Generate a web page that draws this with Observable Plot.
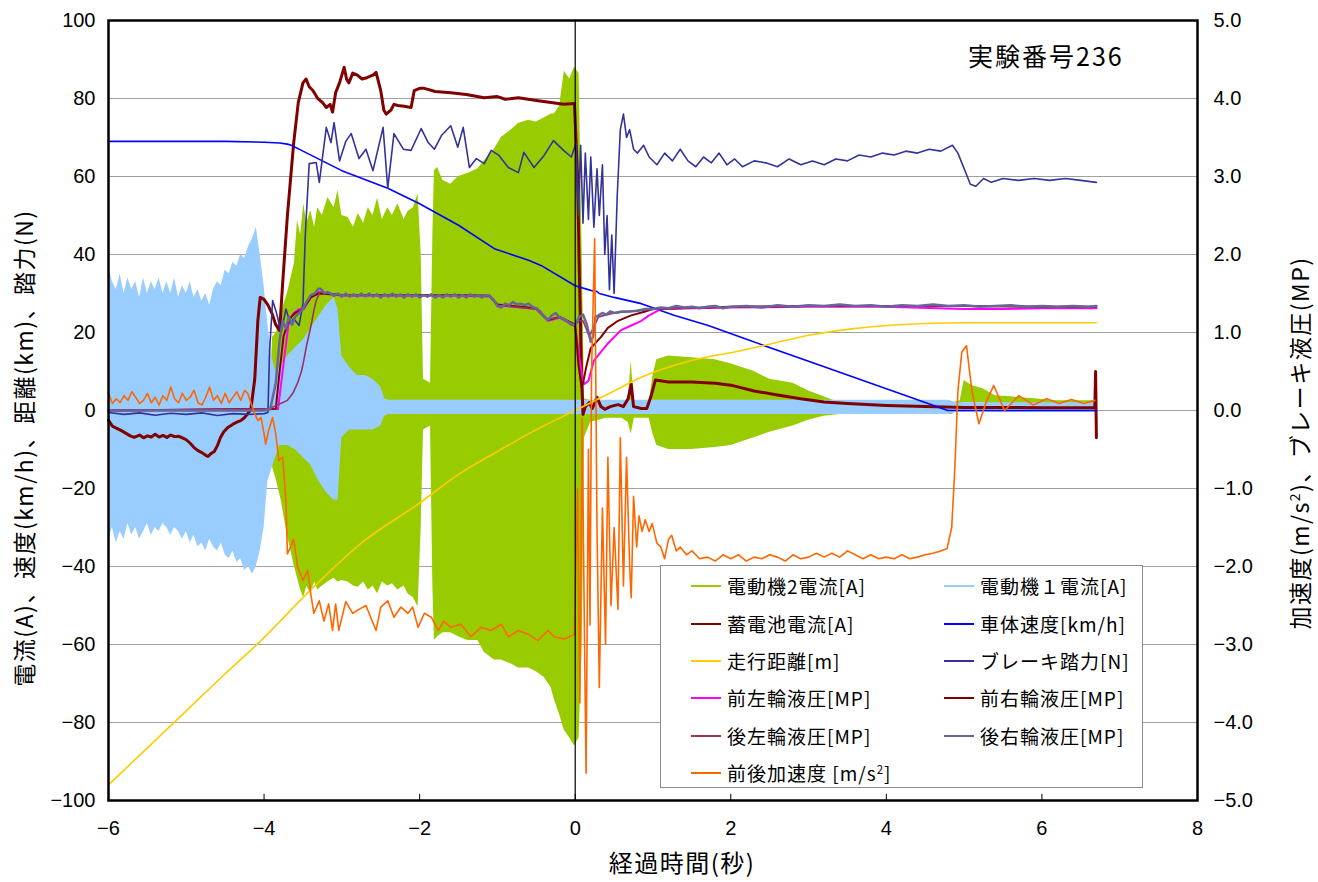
<!DOCTYPE html>
<html><head><meta charset="utf-8">
<script src="https://cdn.jsdelivr.net/npm/d3@7"></script>
<script src="https://cdn.jsdelivr.net/npm/@observablehq/plot@0.6"></script>
<style>
body{margin:0;background:#fff;}
#wrap{position:relative;width:1318px;height:882px;overflow:hidden;font-family:"Noto Sans CJK JP",sans-serif;color:#000;}
#chart{position:absolute;left:0;top:0;}
.lbl{position:absolute;white-space:nowrap;line-height:1;}
.rot{transform:translate(-50%,-50%) rotate(-90deg);}
#legend{position:absolute;left:660px;top:565px;width:483px;height:223px;border:1px solid #8c8c8c;background:#fff;box-sizing:border-box;}
.item{position:absolute;font-size:19px;line-height:20px;height:20px;white-space:nowrap;display:flex;align-items:center;letter-spacing:1px;}
.item i{display:inline-block;width:30px;height:2px;margin-right:6px;}
sup{font-size:0.6em;vertical-align:0.6em;line-height:0;}
#warn{position:absolute;left:10px;top:10px;color:red;font-size:14px;}
</style></head>
<body><div id="wrap"><div id="chart"></div><div id="legend"></div><div id="warn"></div></div>
<script>
// ---------- axes / ticks ----------
const xTicks = [-6, -4, -2, 0, 2, 4, 6, 8];
const yTicks = [-100, -80, -60, -40, -20, 0, 20, 40, 60, 80, 100];
const yGrid = [-80, -60, -40, -20, 0, 20, 40, 60, 80];
const accelTicks = [-5, -4, -3, -2, -1, 0, 1, 2, 3, 4, 5];
const SCALE = 20; // right axis (m/s2, MP) -> left axis units

// ---------- series (time in s) ----------
// 電動機2電流[A] : envelope of the dense oscillation
const m2T  = [-3.93,-3.89,-3.84,-3.78,-3.7,-3.61,-3.57,-3.53,-3.49,-3.45,-3.4,-3.35,-3.31,-3.25,-3.18,-3.1,-3.05,-3.0,-2.92,-2.85,-2.79,-2.72,-2.66,-2.6,-2.54,-2.48,-2.41,-2.35,-2.28,-2.2,-2.15,-2.08,-2.02,-1.98,-1.95,-1.86,-1.83,-1.81,-1.77,-1.7,-1.6,-1.5,-1.38,-1.25,-1.17,-1.04,-0.95,-0.82,-0.73,-0.6,-0.5,-0.4,-0.31,-0.27,-0.2,-0.14,-0.07,-0.01,0.05,0.09,0.12,0.2,0.4,0.6,0.68,0.72,0.76,0.95,1.0,1.05,1.2,1.5,1.8,2.0,2.3,2.5,2.8,3.0,3.2,3.4,4.85,4.95,5.0,5.1,5.25,5.4,5.6,5.9,6.2,6.7];
const m2Hi = [0,18.8,20,25,30,37.7,48.7,45,53,48,51.3,47,52,50,54.6,52,56.4,50,49.5,47,50.5,48,52,50,54.4,49,52,50,53,49,51,52,55.6,40,8,7,45,61.5,62.3,59,58,60,60.8,62,64,67,70,72,73.6,74.4,74,75,76,76,78,87,85,88,86.4,40,3,2.5,2,2,2,12.7,2,2,9,13,14,13.5,13,12,10,8,7,5,3.5,2,2,2.5,7.7,6.4,5.5,3.8,3.5,3,2.5,2.5];
const m2Lo = [0,-14.6,-18,-23,-32,-40,-43,-46,-48,-45,-47,-44,-46,-45,-44,-43,-44,-43.6,-44,-45,-45.3,-44,-46,-45,-47,-44,-45,-44.4,-46,-45,-47,-48,-50.4,-30,-5,-4,-45,-59,-58,-57,-57,-58,-59,-59,-62,-64,-64,-65,-66,-66,-67,-68.4,-71,-74,-78,-82,-84,-86,-84,-60,-7,-3,-2,-2,-3,-6,-2,-2,-6,-9,-10,-10,-9.5,-9,-7,-5.6,-4,-2.5,-1.5,-1,-1,1,2,2,2,1.5,1.5,1.5,1,1];

// 電動機1電流[A] : envelope
const m1T  = [-6,-5.95,-5.9,-5.85,-5.8,-5.75,-5.7,-5.65,-5.6,-5.55,-5.5,-5.45,-5.4,-5.35,-5.3,-5.25,-5.2,-5.15,-5.1,-5.05,-5,-4.95,-4.9,-4.85,-4.8,-4.75,-4.7,-4.65,-4.6,-4.55,-4.5,-4.45,-4.4,-4.35,-4.3,-4.25,-4.2,-4.15,-4.1,-4.05,-4,-3.95,-3.9,-3.85,-3.8,-3.7,-3.6,-3.5,-3.4,-3.3,-3.2,-3.1,-3.05,-3,-2.9,-2.8,-2.7,-2.6,-2.5,-2.45,-2.4,4.8,4.9,6.7];
const m1Hi = [37,33,31,35,30,34,31,33,29,34,30,33,31,34,30,33,30,34,29,32,30,33,29,31,28,30,27,31,33,32,36,35,38,37,40,39,42,44,47,40,32,22,14,10,11,14,16,18,21,24,27,29,26,14,11,9,9,8,6,3,2.6,2.6,2,2];
const m1Lo = [-33,-30,-34,-31,-33,-29,-32,-30,-33,-31,-29,-32,-30,-31,-29,-30,-32,-30,-31,-33,-31,-34,-32,-35,-34,-36,-33,-35,-36,-34,-37,-38,-36,-39,-38,-41,-40,-42,-40,-36,-30,-18,-15,-12,-9,-9,-10,-12,-14,-18,-21,-23,-23,-7,-5,-5,-5,-5,-4,-1.5,-1,-1,-0.5,-0.5];

// 蓄電池電流[A]
const batT = [-6,-5.95,-5.9,-5.84,-5.78,-5.72,-5.67,-5.6,-5.55,-5.5,-5.45,-5.4,-5.35,-5.3,-5.25,-5.2,-5.15,-5.1,-5.05,-5,-4.95,-4.9,-4.85,-4.8,-4.75,-4.72,-4.68,-4.64,-4.6,-4.56,-4.52,-4.47,-4.4,-4.35,-4.3,-4.25,-4.21,-4.17,-4.12,-4.08,-4.05,-4,-3.95,-3.9,-3.85,-3.8,-3.76,-3.7,-3.62,-3.56,-3.5,-3.46,-3.42,-3.37,-3.31,-3.25,-3.2,-3.15,-3.12,-3.08,-3.03,-2.97,-2.94,-2.91,-2.86,-2.8,-2.74,-2.67,-2.6,-2.56,-2.5,-2.46,-2.43,-2.37,-2.33,-2.28,-2.2,-2.11,-2.07,-2,-1.94,-1.8,-1.6,-1.4,-1.17,-1,-0.9,-0.73,-0.5,-0.31,-0.15,-0.01,0.03,0.05,0.08,0.1,0.13,0.18,0.22,0.28,0.33,0.38,0.45,0.55,0.62,0.68,0.72,0.75,0.85,0.92,0.98,1.03,1.2,1.5,1.8,2,2.3,2.6,2.9,3.2,3.5,4,4.5,5,5.5,6,6.68,6.69,6.7];
const batV = [-2.5,-4,-4.5,-5.1,-5.8,-6.5,-6.9,-6.3,-7,-6.5,-6.8,-6.1,-6.8,-6.4,-6.9,-6.3,-6.7,-6.6,-7,-7.5,-8.4,-9.5,-10.3,-10.8,-11.5,-11.8,-11,-10.5,-9,-6.9,-5.5,-4.4,-3.5,-3,-2.6,-1.8,-0.8,0.3,8,23,29,28.5,27,25,22,20.5,33,50,68.5,79,84,85,83,82,80,79,77.7,78.5,76.5,81.5,84,88,85,84,86.5,86,85,85.4,86,86.7,82,77,76,77,78.5,78.2,78,77.7,82,82.6,82.6,81.8,81.5,81,80.2,80.5,79.8,80.2,79.5,79,78.5,78.7,60,38.5,10,-1,1,2,0.5,3.4,1,0.3,1,1.5,1,3,6.8,1,0.5,0.5,4,7.8,7.3,7.3,7,6.5,5,4,3,2.2,1.8,1.3,1,0.8,0.8,0.7,0.7,10,-7];

// 車体速度[km/h]
const velT = [-6,-5,-4.5,-4,-3.8,-3.7,-3.65,-3.5,-3.2,-3,-2.41,-2,-1.89,-1.5,-1.04,-0.6,-0.44,0,0.2,0.28,0.31,0.5,0.85,1.27,1.71,2.14,3,4,4.79,6.7];
const velV = [69,69,69,68.8,68.6,68.3,68,66.5,63.5,61.5,57,53,51.8,47.5,41.5,38.5,37.2,32,30.8,30.5,30,29,27.4,24.4,21.8,18.7,12.6,5.6,0,0];

// 走行距離[m]
const distT = [-6,-5.5,-5,-4.5,-4.04,-3.4,-2.75,-2.02,-1.47,-1,-0.6,-0.44,0,0.2,0.5,0.85,1.49,2.14,2.5,3,3.5,4,4.5,5,6.7];
const distV = [-96,-86.5,-77,-67.5,-59,-46,-34,-24,-16,-10.5,-6,-4.3,0,2,5,8.5,12.8,15.4,17,19.3,20.8,21.8,22.3,22.5,22.5];

// ブレーキ踏力[N]
const brkT = [-6,-5.8,-5.6,-5.4,-5.2,-5,-4.8,-4.6,-4.4,-4.2,-4,-3.95,-3.93,-3.89,-3.84,-3.78,-3.72,-3.66,-3.62,-3.55,-3.5,-3.47,-3.42,-3.33,-3.29,-3.2,-3.14,-3.1,-3.03,-2.95,-2.88,-2.78,-2.69,-2.6,-2.47,-2.41,-2.33,-2.21,-2.11,-1.98,-1.89,-1.81,-1.72,-1.6,-1.51,-1.44,-1.36,-1.27,-1.17,-1.08,-0.98,-0.86,-0.73,-0.66,-0.53,-0.4,-0.28,-0.15,-0.05,0.01,0.04,0.07,0.1,0.13,0.17,0.2,0.24,0.28,0.31,0.35,0.38,0.41,0.44,0.47,0.5,0.54,0.58,0.62,0.66,0.7,0.75,0.8,0.88,0.95,1.05,1.15,1.25,1.35,1.45,1.55,1.65,1.75,1.85,1.95,2.05,2.15,2.3,2.45,2.6,2.75,2.9,3.05,3.2,3.35,3.5,3.65,3.8,3.95,4.1,4.25,4.4,4.55,4.7,4.85,4.92,5,5.08,5.15,5.25,5.35,5.5,5.7,5.9,6.1,6.3,6.5,6.7];
const brkV = [-0.5,-1,-0.6,-1.2,-0.7,-1,-0.6,-1.3,-0.8,-1,-0.8,-0.5,15,28.2,25,20,26,22.3,23.6,21.8,27.4,45,63.3,63.6,58.5,72.6,68.7,73.8,64,69,71,64.6,67,61.5,72.6,57,71,67,66.7,72.3,68.7,67,70.5,73,67.5,72.6,62.3,64.6,63.3,66.7,65.4,62.3,61,66.2,62.3,65.4,69.2,66.7,65,68.5,50,68,48,66,49,65,47,62,50,63,40,50,31,45,30,55,72,76,70,72,67,66,68,65,63,66,64,67,64,62.5,65,63.5,66,63,64.5,62.5,64,63.5,62.5,64.5,63,64,63,64.5,64,65.5,65,66,65.5,66.5,66,67,66.5,68,66,62,58,57.5,59.5,58.5,59.5,59,59.5,59,59.5,59,58.5];

// 前左輪液圧[MP]
const flT = [-6,-3.82,-3.78,-3.74,-3.68,-3.62,-3.55,-3.49,-3.4,-3.3,-3,-2.5,-2,-1.5,-1.1,-1,-0.5,-0.35,-0.2,0,0.05,0.1,0.12,0.17,0.24,0.42,0.59,0.72,0.85,0.95,1.1,2,3,4,5,5.5,6,6.7];
const flV = [0,0.02,0.35,0.68,1.15,1.25,1.3,1.3,1.45,1.52,1.47,1.47,1.47,1.47,1.46,1.35,1.3,1.15,1.19,1.08,0.7,0.38,0.34,0.38,0.64,0.86,1.03,1.09,1.15,1.22,1.3,1.32,1.33,1.33,1.3,1.3,1.31,1.31];
// 前右輪液圧[MP]
const frT = [-6,-3.85,-3.8,-3.75,-3.7,-3.65,-3.6,-3.5,-3.4,-3.3,-3,-2.5,-2,-1.5,-1.1,-1,-0.5,-0.35,-0.2,0,0.04,0.08,0.1,0.14,0.2,0.33,0.42,0.55,0.72,0.9,1.0,2,3,4,5,6,6.7];
const frV = [0,0.02,0.5,0.95,1.1,1.2,1.25,1.3,1.45,1.5,1.48,1.48,1.48,1.48,1.47,1.36,1.31,1.16,1.2,1.1,0.6,0.3,0.35,0.55,0.8,0.94,1.06,1.15,1.22,1.27,1.3,1.33,1.34,1.34,1.34,1.33,1.33];
// 後左輪液圧[MP]
const rlT = [-6,-3.95,-3.85,-3.7,-3.63,-3.57,-3.52,-3.49,-3.45,-3.4,-3.36,-3.33,-3.28,-3,-2.5,-2,-1.5,-1.1,-1,-0.5,-0.35,-0.2,0,0.05,0.1,0.18,0.3,0.5,1,2,3,4,5,6,6.7];
const rlV = [0,0.02,0.06,0.13,0.22,0.35,0.5,0.64,0.85,1.07,1.28,1.41,1.52,1.48,1.48,1.48,1.48,1.47,1.35,1.3,1.17,1.19,1.1,1.15,1.15,0.95,1.2,1.25,1.3,1.33,1.34,1.34,1.34,1.33,1.33];
// 後右輪液圧[MP]
const rrT = [-6,-4,-3.92,-3.85,-3.8,-3.76,-3.72,-3.68,-3.64,-3.6,-3.55,-3.5,-3.45,-3.4,-3.35,-3.3,-3.27,-3.22,-3.18,-3.1,-3.05,-3,-2.95,-2.9,-2.85,-2.8,-2.75,-2.7,-2.65,-2.6,-2.55,-2.5,-2.45,-2.4,-2.35,-2.3,-2.25,-2.2,-2.15,-2.1,-2.05,-2,-1.95,-1.9,-1.85,-1.8,-1.75,-1.7,-1.65,-1.6,-1.55,-1.5,-1.45,-1.4,-1.35,-1.3,-1.25,-1.2,-1.15,-1.1,-1.05,-1,-0.95,-0.9,-0.85,-0.8,-0.75,-0.7,-0.65,-0.6,-0.55,-0.5,-0.45,-0.4,-0.35,-0.3,-0.25,-0.2,-0.15,-0.1,-0.05,0,0.05,0.1,0.15,0.2,0.23,0.26,0.3,0.35,0.4,0.45,0.5,0.6,0.7,0.8,0.9,1,1.1,1.2,1.3,1.4,1.5,1.6,1.7,1.8,1.9,2,2.2,2.4,2.6,2.8,3,3.2,3.4,3.6,3.8,4,4.2,4.4,4.6,4.8,5,5.2,5.4,5.6,5.8,6,6.2,6.4,6.6,6.7];
const rrV = [0,0,0.02,0.35,0.9,1.15,1.05,1.2,1.1,1.2,1.25,1.3,1.4,1.48,1.5,1.56,1.56,1.5,1.52,1.47,1.5,1.46,1.5,1.46,1.49,1.46,1.5,1.46,1.5,1.46,1.49,1.45,1.49,1.46,1.5,1.46,1.49,1.45,1.49,1.46,1.49,1.45,1.48,1.46,1.49,1.45,1.48,1.45,1.49,1.46,1.49,1.45,1.48,1.45,1.49,1.46,1.48,1.45,1.48,1.47,1.42,1.34,1.32,1.37,1.35,1.39,1.36,1.37,1.35,1.37,1.33,1.31,1.27,1.2,1.16,1.22,1.25,1.19,1.18,1.14,1.1,1.1,1.2,1.23,1.1,0.88,0.95,1.2,1.22,1.25,1.23,1.27,1.25,1.27,1.27,1.28,1.3,1.3,1.32,1.31,1.34,1.32,1.33,1.31,1.33,1.34,1.31,1.33,1.34,1.32,1.35,1.33,1.35,1.34,1.36,1.34,1.35,1.33,1.35,1.34,1.36,1.34,1.35,1.33,1.34,1.35,1.33,1.34,1.33,1.34,1.33,1.34];

// 前後加速度[m/s2]
const accT = [-6,-5.95,-5.9,-5.85,-5.8,-5.75,-5.7,-5.65,-5.6,-5.55,-5.5,-5.45,-5.4,-5.35,-5.3,-5.25,-5.2,-5.15,-5.1,-5.05,-5,-4.95,-4.9,-4.85,-4.8,-4.75,-4.7,-4.65,-4.6,-4.55,-4.5,-4.45,-4.4,-4.35,-4.3,-4.25,
 -4.21,-4.17,-4.12,-4.08,-4.04,-4,-3.98,-3.94,-3.89,-3.85,-3.81,-3.76,-3.72,-3.7,-3.66,-3.62,-3.57,-3.5,-3.44,-3.4,-3.36,-3.29,-3.23,-3.17,-3.12,-3.08,-3.04,-2.95,-2.86,-2.78,-2.69,-2.63,-2.56,-2.5,-2.41,-2.33,-2.24,-2.15,-2.09,-2.02,-1.94,-1.85,-1.76,-1.69,-1.6,-1.47,-1.34,-1.21,-1.08,-0.95,-0.86,-0.73,-0.6,-0.48,-0.35,-0.27,-0.14,-0.01,
 0.03,0.06,0.09,0.12,0.14,0.17,0.19,0.21,0.25,0.28,0.31,0.35,0.39,0.42,0.46,0.5,0.55,0.58,0.62,0.66,0.7,0.72,0.75,0.79,0.82,0.86,0.9,0.95,0.99,1.05,1.1,1.15,1.2,1.24,1.3,1.35,1.43,1.5,1.6,1.7,1.8,1.9,2,2.1,2.2,2.3,2.4,2.5,2.6,2.7,2.8,2.9,3,3.1,3.2,3.3,3.4,3.5,3.6,3.7,3.8,3.9,4,4.1,4.2,4.3,4.4,4.5,4.6,4.7,4.78,4.84,4.88,4.92,4.97,5.03,5.1,5.19,5.28,5.38,5.52,5.7,5.89,6.06,6.22,6.38,6.54,6.68];
const accV = [0.22,0.09,0.15,0.1,0.19,0.13,0.24,0.17,0.09,0.13,0.22,0.1,0.17,0.07,0.19,0.13,0.3,0.15,0.1,0.22,0.13,0.17,0.26,0.1,0.07,0.17,0.3,0.13,0.19,0.09,0.22,0.1,0.17,0.24,0.13,0.26,
 0.22,0.1,-0.04,-0.13,-0.09,-0.3,-0.43,-0.25,-0.09,-0.3,-0.64,-0.6,-1.15,-1.84,-1.75,-1.65,-2.0,-2.18,-2.05,-2.35,-2.6,-2.44,-2.7,-2.48,-2.82,-2.48,-2.82,-2.45,-2.6,-2.55,-2.5,-2.65,-2.82,-2.52,-2.44,-2.65,-2.52,-2.6,-2.52,-2.78,-2.6,-2.65,-2.82,-2.7,-2.78,-2.74,-2.9,-2.78,-2.82,-2.74,-2.9,-2.82,-2.87,-2.95,-2.82,-2.9,-2.93,-2.87,
 -1.0,-3.75,-0.1,-3.0,-4.65,-0.5,-2.75,0.5,2.2,-1.5,-3.55,-1.25,-3.0,-0.6,-2.5,-1.5,-2.55,-0.35,-2.25,-0.6,-2.0,-2.4,-1.1,-1.75,-1.35,-1.55,-1.4,-1.55,-1.45,-1.7,-1.75,-1.9,-1.65,-1.6,-1.8,-1.75,-1.85,-1.8,-1.9,-1.88,-1.93,-1.85,-1.9,-1.85,-1.93,-1.88,-1.9,-1.85,-1.88,-1.93,-1.85,-1.9,-1.88,-1.83,-1.88,-1.83,-1.88,-1.8,-1.85,-1.9,-1.85,-1.9,-1.88,-1.9,-1.85,-1.9,-1.88,-1.85,-1.83,-1.8,-1.77,-1.5,-0.75,0.25,0.75,0.83,0.25,-0.17,0.1,0.32,0,0.19,0.07,0.15,0.09,0.14,0.09,0.13];

// ---------- legend ----------
const seriesNames  = ["電動機2電流[A]","電動機１電流[A]","蓄電池電流[A]","車体速度[km/h]","走行距離[m]","ブレーキ踏力[N]","前左輪液圧[MP]","前右輪液圧[MP]","後左輪液圧[MP]","後右輪液圧[MP]","前後加速度 [m/s<sup>2</sup>]"];
const seriesColors = ["#99cc00","#99ccff","#800000","#0000ff","#ffcc00","#333399","#ff00ff","#800000","#993366","#666699","#ff6600"];

// ---------- build ----------
const warn = [];
function line(ts, vs, name, k = 1) {
  if (ts.length !== vs.length) warn.push(name + " " + ts.length + "/" + vs.length);
  return ts.map((t, i) => ({t, v: vs[i] * k}));
}
function band(ts, lo, hi, name) {
  if (ts.length !== lo.length || ts.length !== hi.length) warn.push(name + " " + ts.length + "/" + lo.length + "/" + hi.length);
  return ts.map((t, i) => ({t, lo: lo[i], hi: hi[i]}));
}
const m2 = band(m2T, m2Lo, m2Hi, "m2");
const m1 = band(m1T, m1Lo, m1Hi, "m1");
const bat = line(batT, batV, "bat");
const vel = line(velT, velV, "vel");
const dist = line(distT, distV, "dist");
const brk = line(brkT, brkV, "brk");
const fl = line(flT, flV, "fl", SCALE);
const fr = line(frT, frV, "fr", SCALE);
const rl = line(rlT, rlV, "rl", SCALE);
const rr = line(rrT, rrV, "rr", SCALE);
const acc = line(accT, accV, "acc", SCALE);

const minus = s => s.replace("-", "\u2212");
const chart = Plot.plot({
  width: 1318, height: 882,
  marginLeft: 108, marginRight: 121, marginTop: 20, marginBottom: 82,
  x: {domain: [-6, 8]},
  y: {domain: [-100, 100]},
  style: {fontFamily: '"Liberation Sans Narrow","Liberation Sans",sans-serif', fontSize: "20px", color: "#000", background: "transparent"},
  marks: [
    Plot.gridY(yGrid, {stroke: "#a0a0a0", strokeOpacity: 1, strokeWidth: 1}),
    Plot.areaY(m2, {x: "t", y1: "lo", y2: "hi", fill: seriesColors[0], curve: "linear"}),
    Plot.areaY(m1, {x: "t", y1: "lo", y2: "hi", fill: seriesColors[1], curve: "linear"}),
    Plot.line(bat, {x: "t", y: "v", stroke: seriesColors[2], strokeWidth: 3}),
    Plot.line(vel, {x: "t", y: "v", stroke: seriesColors[3], strokeWidth: 1.6}),
    Plot.line(dist, {x: "t", y: "v", stroke: seriesColors[4], strokeWidth: 1.6, curve: "monotone-x"}),
    Plot.line(brk, {x: "t", y: "v", stroke: seriesColors[5], strokeWidth: 1.6}),
    Plot.line(fl, {x: "t", y: "v", stroke: seriesColors[6], strokeWidth: 2}),
    Plot.line(fr, {x: "t", y: "v", stroke: seriesColors[7], strokeWidth: 2}),
    Plot.line(rl, {x: "t", y: "v", stroke: seriesColors[8], strokeWidth: 1.6}),
    Plot.line(rr, {x: "t", y: "v", stroke: seriesColors[9], strokeWidth: 2.5}),
    Plot.line(acc, {x: "t", y: "v", stroke: seriesColors[10], strokeWidth: 1.6}),
    Plot.ruleX([0], {stroke: "#000", strokeWidth: 1.2}),
    Plot.ruleX(xTicks.slice(1, -1), {y1: -100, y2: -98.4, stroke: "#000"}),
    Plot.axisY(yTicks, {anchor: "left", tickSize: 0, tickPadding: 13, label: null}),
    Plot.axisY(accelTicks.map(v => v * SCALE), {anchor: "right", tickSize: 0, tickPadding: 16, label: null,
      tickFormat: d => minus((d / SCALE).toFixed(1))}),
    Plot.axisX(xTicks, {tickSize: 0, tickPadding: 20, label: null}),
    Plot.frame({stroke: "#000", strokeWidth: 2.5})
  ]
});
document.getElementById("chart").appendChild(chart);

// legend
const lg = document.getElementById("legend");
const rowY = [10, 48, 85, 122, 160, 197];
seriesNames.forEach((n, i) => {
  const d = document.createElement("div");
  d.className = "item";
  const col = i % 2, row = Math.floor(i / 2);
  d.style.left = (col ? 283 : 30) + "px";
  d.style.top = rowY[row] + "px";
  d.innerHTML = `<i style="background:${seriesColors[i]}"></i><span>${n}</span>`;
  lg.appendChild(d);
});

// text labels
const wrap = document.getElementById("wrap");
function addLabel(html, css, cls = "lbl") {
  const d = document.createElement("div");
  d.className = cls;
  d.innerHTML = html;
  Object.assign(d.style, css);
  wrap.appendChild(d);
}
addLabel("実験番号236", {left: "968px", top: "43px", fontSize: "25px", letterSpacing: "2px"});
addLabel("経過時間(秒)", {left: "682px", top: "862px", fontSize: "24px", letterSpacing: "1.5px", transform: "translate(-50%,-50%)"});
addLabel("電流(A)、速度(km/h)、距離(km)、踏力(N)", {left: "23px", top: "448px", fontSize: "23px", letterSpacing: "1.5px"}, "lbl rot");
addLabel("加速度(m/s<sup>2</sup>)、ブレーキ液圧(MP)", {left: "1299px", top: "443px", fontSize: "23px", letterSpacing: "1.5px"}, "lbl rot");

if (warn.length) document.getElementById("warn").textContent = "LEN MISMATCH: " + warn.join(", ");
</script>
</body></html>
